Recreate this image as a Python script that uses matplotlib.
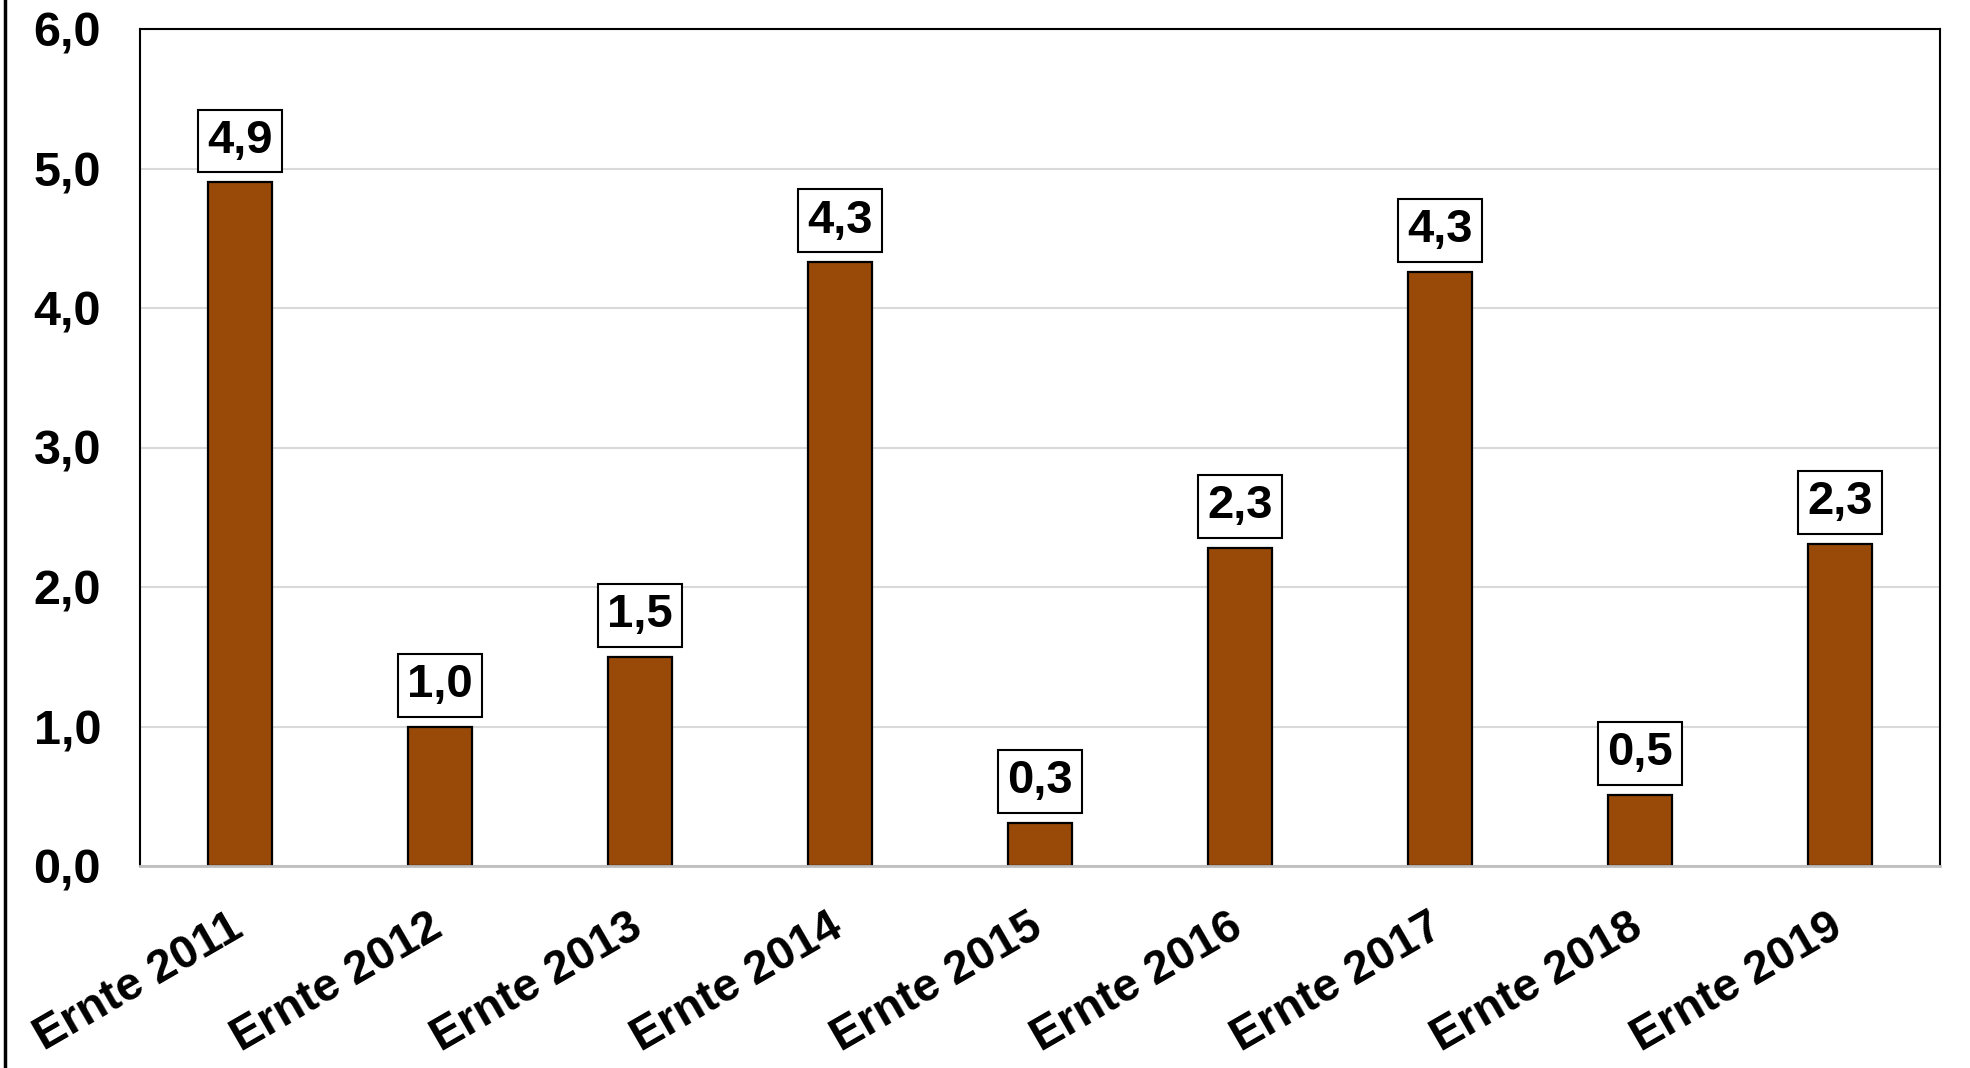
import matplotlib.pyplot as plt
from matplotlib.lines import Line2D
from matplotlib.transforms import ScaledTranslation

# Werte
categories = ["Ernte 2011", "Ernte 2012", "Ernte 2013", "Ernte 2014", "Ernte 2015",
              "Ernte 2016", "Ernte 2017", "Ernte 2018", "Ernte 2019"]
values = [4.90, 1.00, 1.50, 4.33, 0.31, 2.28, 4.26, 0.51, 2.31]
y_ticks = [0, 1, 2, 3, 4, 5, 6]

bar_color = "#994A08"
font = ["Liberation Sans", "DejaVu Sans"]


def fmt(v):
    return f"{v:.1f}".replace(".", ",")


def main():
    plt.rcParams["font.family"] = font
    plt.rcParams["font.weight"] = "bold"

    fig = plt.figure(figsize=(19.70, 10.68), dpi=100)
    ax = fig.add_axes([140 / 1970, 1 - 866 / 1068, 1800 / 1970, (866 - 29) / 1068])

    x = list(range(len(categories)))
    ax.bar(x, values, width=0.32, color=bar_color, edgecolor="black", linewidth=1.6, zorder=3)

    for xi, v in zip(x, values):
        ax.annotate(fmt(v), (xi, v), xytext=(0, 14), textcoords="offset points",
                    ha="center", va="bottom", fontsize=34, fontweight="bold",
                    bbox=dict(boxstyle="square,pad=0.2", fc="white", ec="black", lw=1.5),
                    zorder=4)

    ax.set_xlim(-0.5, len(categories) - 0.5)
    ax.set_ylim(0, 6)
    ax.set_yticks(y_ticks)
    ax.set_yticklabels([fmt(t) for t in y_ticks], fontsize=35, fontweight="bold")
    ax.set_xticks(x)
    ax.tick_params(axis="both", length=0)
    ax.tick_params(axis="y", pad=28)
    ax.tick_params(axis="x", pad=28)
    ax.set_xticklabels(categories, fontsize=33.5, fontweight="bold", rotation=30,
                       ha="right", va="top", rotation_mode="anchor")
    # Beschriftung etwas nach links schieben (wie in Excel)
    shift = ScaledTranslation(-12 / 100, 0, fig.dpi_scale_trans)
    for lab in ax.get_xticklabels():
        lab.set_transform(lab.get_transform() + shift)

    ax.grid(axis="y", color="#d9d9d9", linewidth=1.5, zorder=0)
    for side in ["left", "top", "right"]:
        ax.spines[side].set_color("black")
        ax.spines[side].set_linewidth(1.5)
    ax.spines["bottom"].set_color("#bfbfbf")
    ax.spines["bottom"].set_linewidth(2)
    ax.spines["bottom"].set_zorder(5)

    # linker Rahmen der Grafik
    fig.add_artist(Line2D([5 / 1970, 5 / 1970], [0, 1], color="black", linewidth=2.5))

    fig.savefig("out.png", dpi=100)


if __name__ == "__main__":
    main()
